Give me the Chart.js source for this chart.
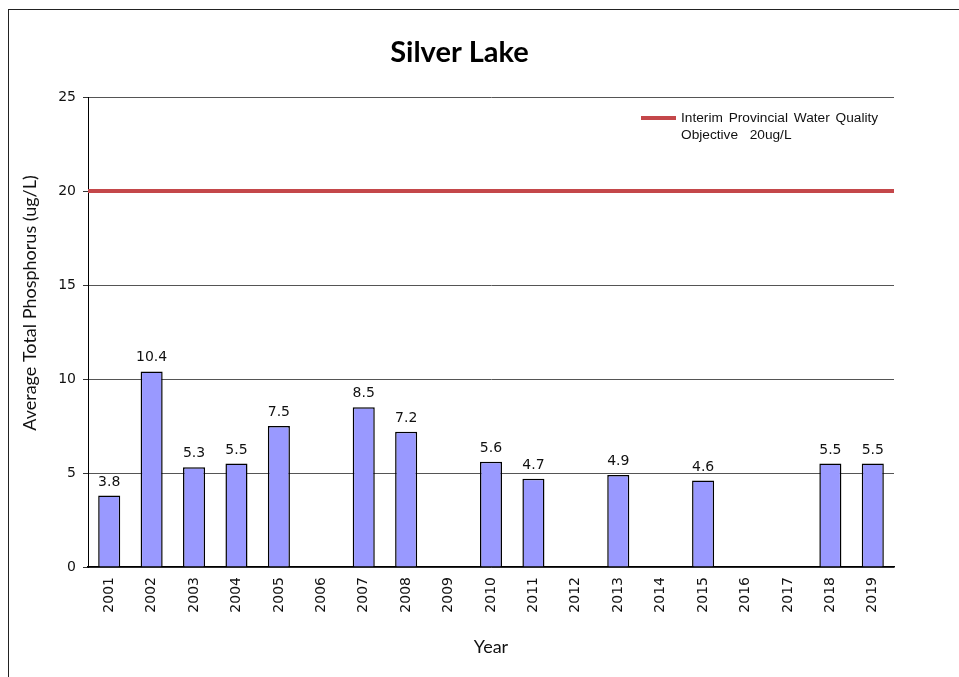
<!DOCTYPE html>
<html>
<head>
<meta charset="utf-8">
<script src="https://cdn.jsdelivr.net/npm/chart.js@4"></script>
<style>
  html, body { margin: 0; padding: 0; background: #fff; }
  #wrap { position: relative; width: 959px; height: 677px; overflow: hidden; }
  #frame { position: absolute; left: 8px; top: 9px; width: 1200px; height: 1200px;
           border-top: 1.5px solid #222; border-left: 1.5px solid #222; }
  canvas { position: absolute; left: 0; top: 0; }
</style>
</head>
<body>
<div id="wrap">
  <div id="frame"></div>
  <canvas id="c" width="959" height="677"></canvas>
</div>
<script>
const chartTitle = 'Silver Lake';
const years = ['2001','2002','2003','2004','2005','2006','2007','2008','2009','2010',
               '2011','2012','2013','2014','2015','2016','2017','2018','2019'];
const phosphorus = [3.8, 10.4, 5.3, 5.5, 7.5, null, 8.5, 7.2, null, 5.6,
                    4.7, null, 4.9, null, 4.6, null, null, 5.5, 5.5];
const objectiveValue = 20;
const objectiveLabelLines = ['Interim Provincial Water Quality', 'Objective  20ug/L'];
const yTicks = [0, 5, 10, 15, 20, 25];
const yAxisTitle = 'Average Total Phosphorus (ug/L)';
const xAxisTitle = 'Year';

const redColor = '#c4474a';

const valueLabels = {
  id: 'valueLabels',
  afterDatasetsDraw(chart) {
    const ctx = chart.ctx;
    const meta = chart.getDatasetMeta(0);
    ctx.save();
    ctx.font = '14px "DejaVu Sans"';
    ctx.fillStyle = '#111';
    ctx.textAlign = 'center';
    ctx.textBaseline = 'alphabetic';
    meta.data.forEach((el, i) => {
      const v = phosphorus[i];
      if (v === null || v === undefined) return;
      ctx.fillText(v.toFixed(1), el.x, el.y - 10);
    });
    ctx.restore();
  }
};

const titlesPlugin = {
  id: 'titlesPlugin',
  afterDraw(chart) {
    const ctx = chart.ctx;
    const a = chart.chartArea;
    ctx.save();
    ctx.fillStyle = '#000';
    ctx.textAlign = 'center';
    ctx.textBaseline = 'alphabetic';
    ctx.font = 'bold 29px Lato';
    ctx.fillText(chartTitle, chart.width / 2 - 20, 62);
    ctx.fillStyle = '#111';
    ctx.font = '18px Lato';
    ctx.translate(30, (a.top + a.bottom) / 2 - 29);
    ctx.rotate(-Math.PI / 2);
    ctx.textBaseline = 'middle';
    ctx.fillText(yAxisTitle, 0, 0);
    ctx.restore();
  }
};

const insideLegend = {
  id: 'insideLegend',
  afterDraw(chart) {
    const ctx = chart.ctx;
    const a = chart.chartArea;
    const x0 = a.right - 253, y0 = a.top + 21;
    ctx.save();
    ctx.strokeStyle = redColor;
    ctx.lineWidth = 4;
    ctx.beginPath();
    ctx.moveTo(x0, y0);
    ctx.lineTo(x0 + 35, y0);
    ctx.stroke();
    ctx.fillStyle = '#111';
    ctx.font = '13.7px "Liberation Sans"';
    try { ctx.wordSpacing = '2px'; } catch (e) {}
    ctx.textAlign = 'left';
    ctx.textBaseline = 'middle';
    objectiveLabelLines.forEach((t, i) => ctx.fillText(t, x0 + 40, y0 + i * 17));
    ctx.restore();
  }
};

new Chart(document.getElementById('c'), {
  type: 'bar',
  data: {
    labels: years,
    datasets: [
      {
        type: 'bar',
        label: 'Average Total Phosphorus',
        data: phosphorus,
        backgroundColor: '#9999ff',
        borderColor: '#000',
        borderWidth: 1.5,
        barPercentage: 0.52,
        categoryPercentage: 1.0,
        grouped: false,
        xAxisID: 'x',
        order: 2
      },
      {
        type: 'line',
        label: objectiveLabelLines.join(' '),
        data: [{x: 0, y: objectiveValue}, {x: 1, y: objectiveValue}],
        borderColor: redColor,
        borderWidth: 4,
        pointRadius: 0,
        xAxisID: 'xLine',
        order: 1
      }
    ]
  },
  options: {
    responsive: false,
    animation: false,
    layout: { padding: { left: 0, right: 65, top: 97, bottom: 0 } },
    plugins: {
      legend: { display: false },
      tooltip: { enabled: false },
      title: { display: false }
    },
    scales: {
      x: {
        type: 'category',
        offset: true,
        grid: { display: false, drawTicks: false },
        border: { display: true, color: '#000', width: 1.5 },
        ticks: {
          color: '#111',
          font: { family: 'DejaVu Sans', size: 14 },
          minRotation: 90, maxRotation: 90,
          autoSkip: false,
          padding: 10
        },
        title: {
          display: true, text: xAxisTitle, color: '#111',
          font: { family: 'Lato', size: 18 },
          padding: { top: 0, bottom: 19 }
        },
        afterFit(s) { s.height = 110; }
      },
      xLine: {
        type: 'linear', min: 0, max: 1, display: false, offset: false
      },
      y: {
        min: 0, max: 25,
        afterBuildTicks(s) { s.ticks = yTicks.map(v => ({ value: v })); },
        grid: { color: '#555', lineWidth: 1, drawTicks: true, tickLength: 5, tickColor: '#333' },
        border: { display: true, color: '#000', width: 1 },
        ticks: {
          color: '#111',
          font: { family: 'DejaVu Sans', size: 14 },
          padding: 7
        },
        title: { display: false },
        afterFit(s) { s.width = 88; }
      }
    }
  },
  plugins: [valueLabels, titlesPlugin, insideLegend]
});
</script>
</body>
</html>
